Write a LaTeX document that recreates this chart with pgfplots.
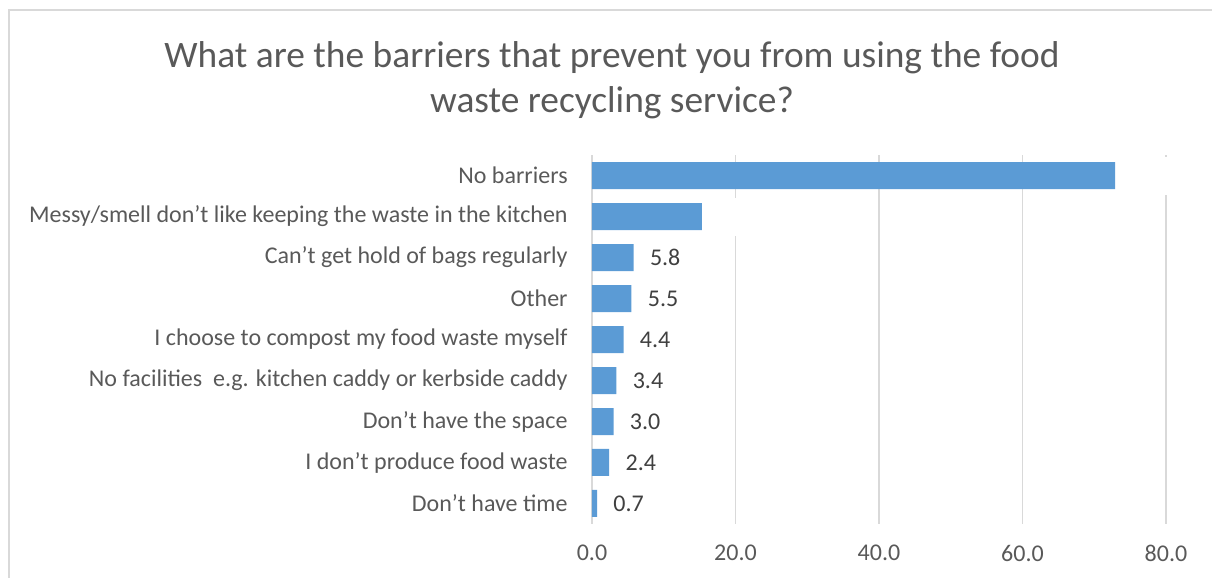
\documentclass[border=0pt]{standalone}
\usepackage{pgfplots}
\pgfplotsset{compat=1.18}
\usepackage{fontspec}
\setmainfont{Carlito}
\definecolor{barblue}{HTML}{5B9BD5}
\definecolor{gridgray}{HTML}{D9D9D9}
\definecolor{txtgray}{HTML}{595959}
\definecolor{lblgray}{HTML}{404040}
\begin{document}
\begin{tikzpicture}
\useasboundingbox (0,0) rectangle (606pt,289pt);
\draw[gridgray, line width=0.6pt] (4.5pt,0) -- (4.5pt,284pt) -- (606pt,284pt);
\node[align=center, text=txtgray, font=\fontsize{18.7}{22.5}\selectfont] at (306pt,248.75pt)
  {What are the barriers that prevent you from using the food\\waste recycling service?};
\begin{axis}[
  at={(296pt,27pt)}, anchor=south west,
  scale only axis, width=287pt, height=184.5pt,
  xbar, bar width=13.5pt, bar shift=0pt,
  xmin=0, xmax=80, ymin=-0.5, ymax=8.5,
  xtick={0,20,40,60,80},
  ytick={0,...,8},
  yticklabels={Don’t have time, I don’t produce food waste, Don’t have the space, No facilities\ \ e.g. kitchen caddy or kerbside caddy, I choose to compost my food waste myself, Other, Can’t get hold of bags regularly, Messy/smell don’t like keeping the waste in the kitchen, No barriers},
  xmajorgrids, grid style={gridgray, line width=0.65pt},
  axis line style={draw=none},
  major tick length=0pt,
  tick label style={font=\fontsize{12}{14}\selectfont, text=txtgray},
  yticklabel style={anchor=east, inner sep=0pt, xshift=-12pt},
  xticklabel style={anchor=north, inner sep=0pt, yshift=-10.5pt},
  /pgf/number format/assume math mode=true,
  xticklabel={\pgfmathprintnumber[fixed, fixed zerofill, precision=1]{\tick}},
  nodes near coords={\pgfmathprintnumber[fixed, fixed zerofill, precision=1, assume math mode=true]{\pgfplotspointmeta}},
  nodes near coords style={font=\fontsize{12}{14}\selectfont, text=lblgray},
  point meta=explicit,
  clip=false,
]
\addplot[fill=barblue, draw=none, nodes near coords style={anchor=west, inner xsep=7pt, inner ysep=5.5pt, minimum height=19pt, fill=white, text=white, xshift=1pt}]
  coordinates {(72.9,8) [72.9] (15.3,7) [15.3]};
\addplot[fill=barblue, draw=none, nodes near coords style={anchor=west, inner sep=0pt, xshift=8pt}]
  coordinates {(5.8,6) [5.8] (5.5,5) [5.5] (4.4,4) [4.4] (3.4,3) [3.4] (3.0,2) [3.0] (2.4,1) [2.4] (0.7,0) [0.7]};
\end{axis}
\end{tikzpicture}
\end{document}
